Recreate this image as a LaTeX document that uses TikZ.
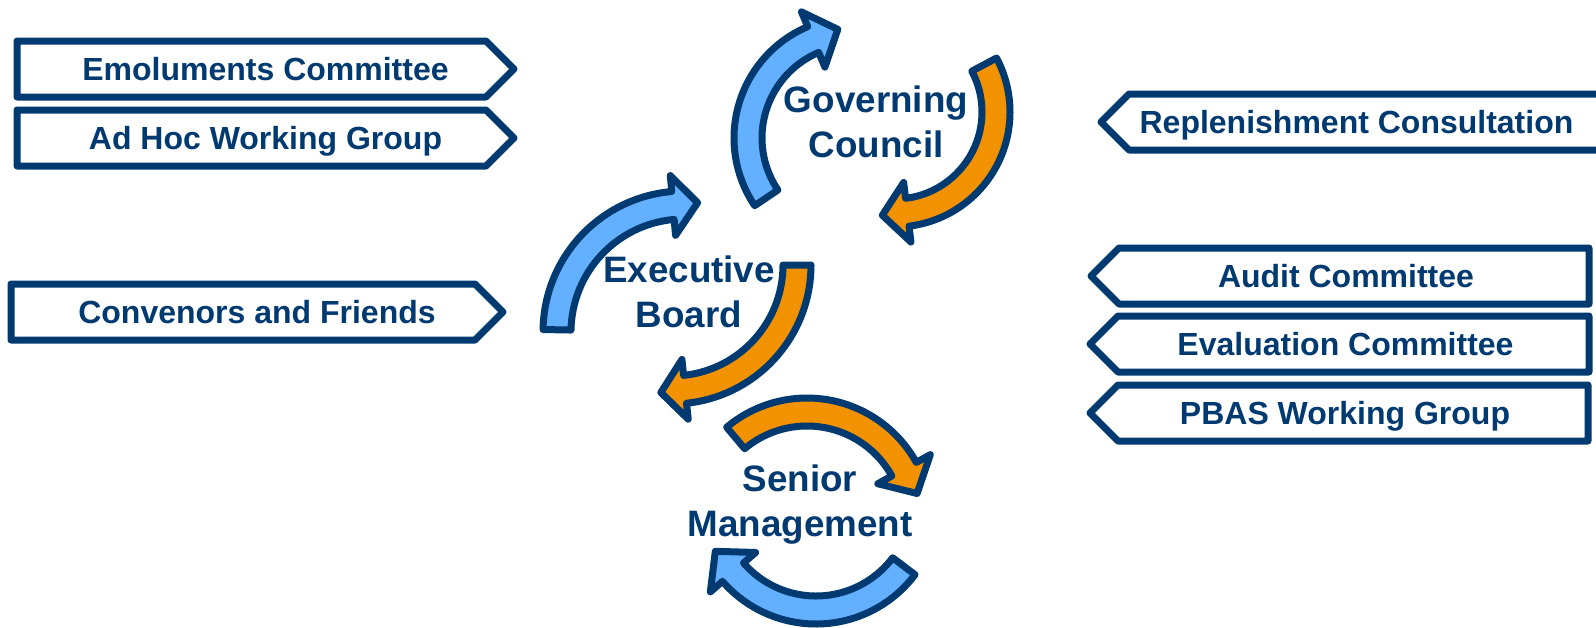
\documentclass[tikz,border=0pt]{standalone}
\usepackage{fontspec}
\setmainfont{Liberation Sans}

\definecolor{deepnavy}{HTML}{003A70}
\definecolor{loopblue}{HTML}{62B0FF}
\definecolor{looporange}{HTML}{F39200}

\tikzset{
	tagline/.style={draw=deepnavy,line width=3.5pt,line join=round,fill=white},
	tagtext/.style={text=deepnavy,font=\bfseries\fontsize{16}{19}\selectfont,text height=11.5pt,text depth=0pt,inner sep=0pt},
	loopline/.style={draw=deepnavy,line width=3.5pt,line join=round},
	looptext/.style={text=deepnavy,font=\bfseries\fontsize{18.4}{22.5}\selectfont,align=center,inner sep=0pt}
}

% tag pointing right: left x, tip x, middle y, name, text
\newcommand{\tagright}[5]{
	\draw[tagline] (#1,#3-28) -- (#2-28,#3-28) -- (#2,#3) -- (#2-28,#3+28) -- (#1,#3+28) -- cycle;
	\node[tagtext] (#4) at ({(#1+#2)/2},#3) {#5};
}
% tag pointing left: tip x, right x, middle y, name, text
\newcommand{\tagleft}[5]{
	\draw[tagline] (#1,#3) -- (#1+28,#3-28) -- (#2,#3-28) -- (#2,#3+28) -- (#1+28,#3+28) -- cycle;
	\node[tagtext] (#4) at ({(#1+#2)/2+6},#3) {#5};
}
% bent block arrow: centre, radius, tail angle, head angle, tip angle, colour
\newcommand{\circarrow}[6]{
	\pgfmathsetmacro{\arcout}{#2+14}
	\pgfmathsetmacro{\arcin}{#2-14}
	\pgfmathsetmacro{\headout}{#2+30}
	\pgfmathsetmacro{\headin}{#2-30}
	\pgfmathsetmacro{\tipr}{#2+3}
	\draw[loopline,fill=#6,shift={#1}] (#3:\arcout) arc[start angle=#3,end angle=#4,radius=\arcout]
		-- (#4:\headout) -- (#5:\tipr) -- (#4:\headin) -- (#4:\arcin)
		arc[start angle=#4,end angle=#3,radius=\arcin] -- cycle;
}

\begin{document}
\begin{tikzpicture}[x=0.5pt,y=-0.5pt]
	\useasboundingbox (0,0) rectangle (1596,627);

	\tagright{17}{514}{69}{emol}{Emoluments Committee}
	\tagright{17}{514}{138}{adhoc}{Ad Hoc Working Group}
	\tagright{11}{503}{312}{conv}{Convenors and Friends}
	\tagleft{1101}{1600}{122}{repl}{Replenishment Consultation}
	\tagleft{1091}{1589}{276}{audit}{Audit Committee}
	\tagleft{1090}{1589}{344}{eval}{Evaluation Committee}
	\tagleft{1090}{1588}{413}{pbas}{PBAS Working Group}

	\circarrow{(855,138)}{107}{146}{247}{261}{loopblue}
	\circarrow{(895,112)}{101}{-28}{83}{97}{looporange}
	\circarrow{(684,332)}{127}{181}{265}{276}{loopblue}
	\circarrow{(672,265)}{125}{0}{84}{95}{looporange}
	\circarrow{(807,523)}{111}{230}{331}{345}{looporange}
	\circarrow{(816,500)}{110}{37}{139}{153}{loopblue}

	\node[looptext] (gc) at (876,122) {Governing\\Council};
	\node[looptext] (eb) at (689,292) {Executive\\Board};
	\node[looptext] (sm) at (800,505) {Senior\\Management};
\end{tikzpicture}
\end{document}
